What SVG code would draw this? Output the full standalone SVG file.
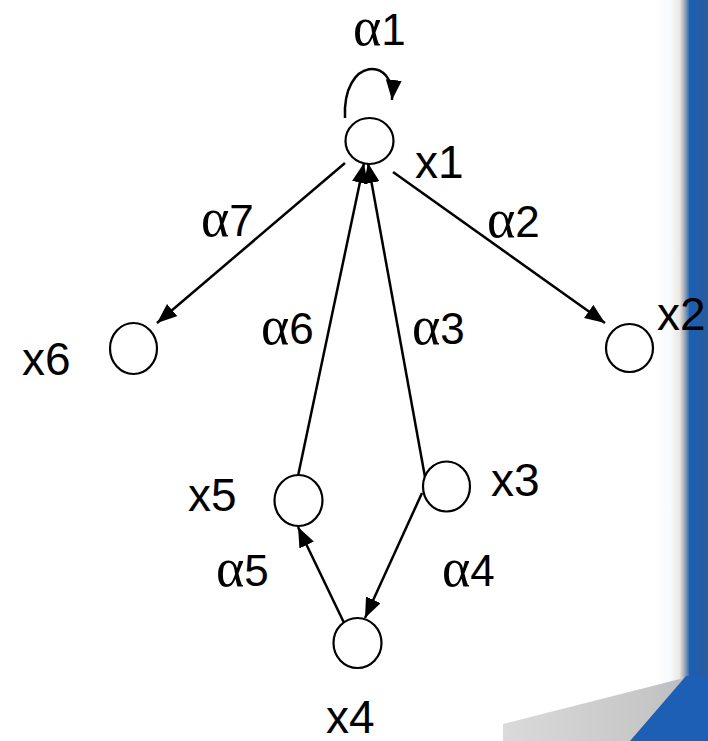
<svg xmlns="http://www.w3.org/2000/svg" width="708" height="741" viewBox="0 0 708 741">
<defs>
<style>
.node{fill:#fff;stroke:#000;stroke-width:2.2}
.edge{fill:none;stroke:#000;stroke-width:2.5}
.lbl{font-family:"Liberation Sans",Arial,sans-serif;font-size:46px;fill:#000}
.a{font-family:"Liberation Serif","Times New Roman",serif;font-size:54px}
.d{font-family:"Liberation Sans",Arial,sans-serif;font-size:44px}
</style>
<marker id="arr" markerUnits="userSpaceOnUse" markerWidth="22" markerHeight="18" refX="20" refY="8" orient="auto" viewBox="0 0 22 18">
<path d="M0,0 L20,8 L0,16 z" fill="#000"/>
</marker>
<linearGradient id="edgeG" x1="0" y1="0" x2="1" y2="0">
<stop offset="0" stop-color="#ffffff"/>
<stop offset="0.45" stop-color="#f6fbfb"/>
<stop offset="0.7" stop-color="#ece6df"/>
<stop offset="0.85" stop-color="#9aa6b6"/>
<stop offset="1" stop-color="#1f5fb2"/>
</linearGradient>
<linearGradient id="blueG" x1="0" y1="0" x2="1" y2="0">
<stop offset="0" stop-color="#1b60b6"/>
<stop offset="1" stop-color="#2a5a9c"/>
</linearGradient>
<linearGradient id="grayG" x1="0" y1="0" x2="1" y2="0">
<stop offset="0" stop-color="#dadada"/>
<stop offset="0.8" stop-color="#c6c6c6"/>
<stop offset="1" stop-color="#b8bcc4"/>
</linearGradient>
</defs>
<rect width="708" height="741" fill="#fff"/>
<g id="background">
<rect x="655" y="0" width="35" height="741" fill="url(#edgeG)"/>
<rect x="689" y="0" width="19" height="741" fill="url(#blueG)"/>
<polygon points="503,724 680,679 686,679 632,741 503,741" fill="url(#grayG)"/>
<polygon points="686,676 708,676 708,741 630,741" fill="#1c5fb4"/>
</g>
<g id="connectors">
<path class="edge" d="M345,118 C342,56 396,56 392,100" marker-end="url(#arr)"/>
<line class="edge" x1="345" y1="163" x2="157" y2="323" marker-end="url(#arr)"/>
<line class="edge" x1="393" y1="172" x2="605" y2="323" marker-end="url(#arr)"/>
<line class="edge" x1="298" y1="476" x2="364" y2="163" marker-end="url(#arr)"/>
<line class="edge" x1="425" y1="477" x2="368" y2="163" marker-end="url(#arr)"/>
<line class="edge" x1="422" y1="493" x2="365" y2="618" marker-end="url(#arr)"/>
<line class="edge" x1="346" y1="627" x2="298" y2="527" marker-end="url(#arr)"/>
</g>
<g id="x1"><ellipse class="node" cx="369.5" cy="141" rx="24" ry="23"/><text class="lbl" x="415" y="178">x1</text></g>
<g id="x2"><ellipse class="node" cx="629.5" cy="348" rx="23.5" ry="24"/><text class="lbl" x="657" y="330">x2</text></g>
<g id="x3"><ellipse class="node" cx="446.5" cy="486.5" rx="23.5" ry="25"/><text class="lbl" x="491" y="496">x3</text></g>
<g id="x4"><ellipse class="node" cx="357.5" cy="643" rx="24" ry="25"/><text class="lbl" x="326" y="733">x4</text></g>
<g id="x5"><ellipse class="node" cx="298.5" cy="500.5" rx="24" ry="25.5"/><text class="lbl" x="188" y="511">x5</text></g>
<g id="x6"><ellipse class="node" cx="133.5" cy="348.5" rx="23.5" ry="25.5"/><text class="lbl" x="22" y="375">x6</text></g>
<g id="labels">
<text x="353" y="45"><tspan class="a">α</tspan><tspan class="d">1</tspan></text>
<text x="201" y="236"><tspan class="a">α</tspan><tspan class="d">7</tspan></text>
<text x="487" y="237"><tspan class="a">α</tspan><tspan class="d">2</tspan></text>
<text x="261" y="344"><tspan class="a">α</tspan><tspan class="d">6</tspan></text>
<text x="412" y="344"><tspan class="a">α</tspan><tspan class="d">3</tspan></text>
<text x="216" y="586"><tspan class="a">α</tspan><tspan class="d">5</tspan></text>
<text x="442" y="586"><tspan class="a">α</tspan><tspan class="d">4</tspan></text>
</g>
</svg>
